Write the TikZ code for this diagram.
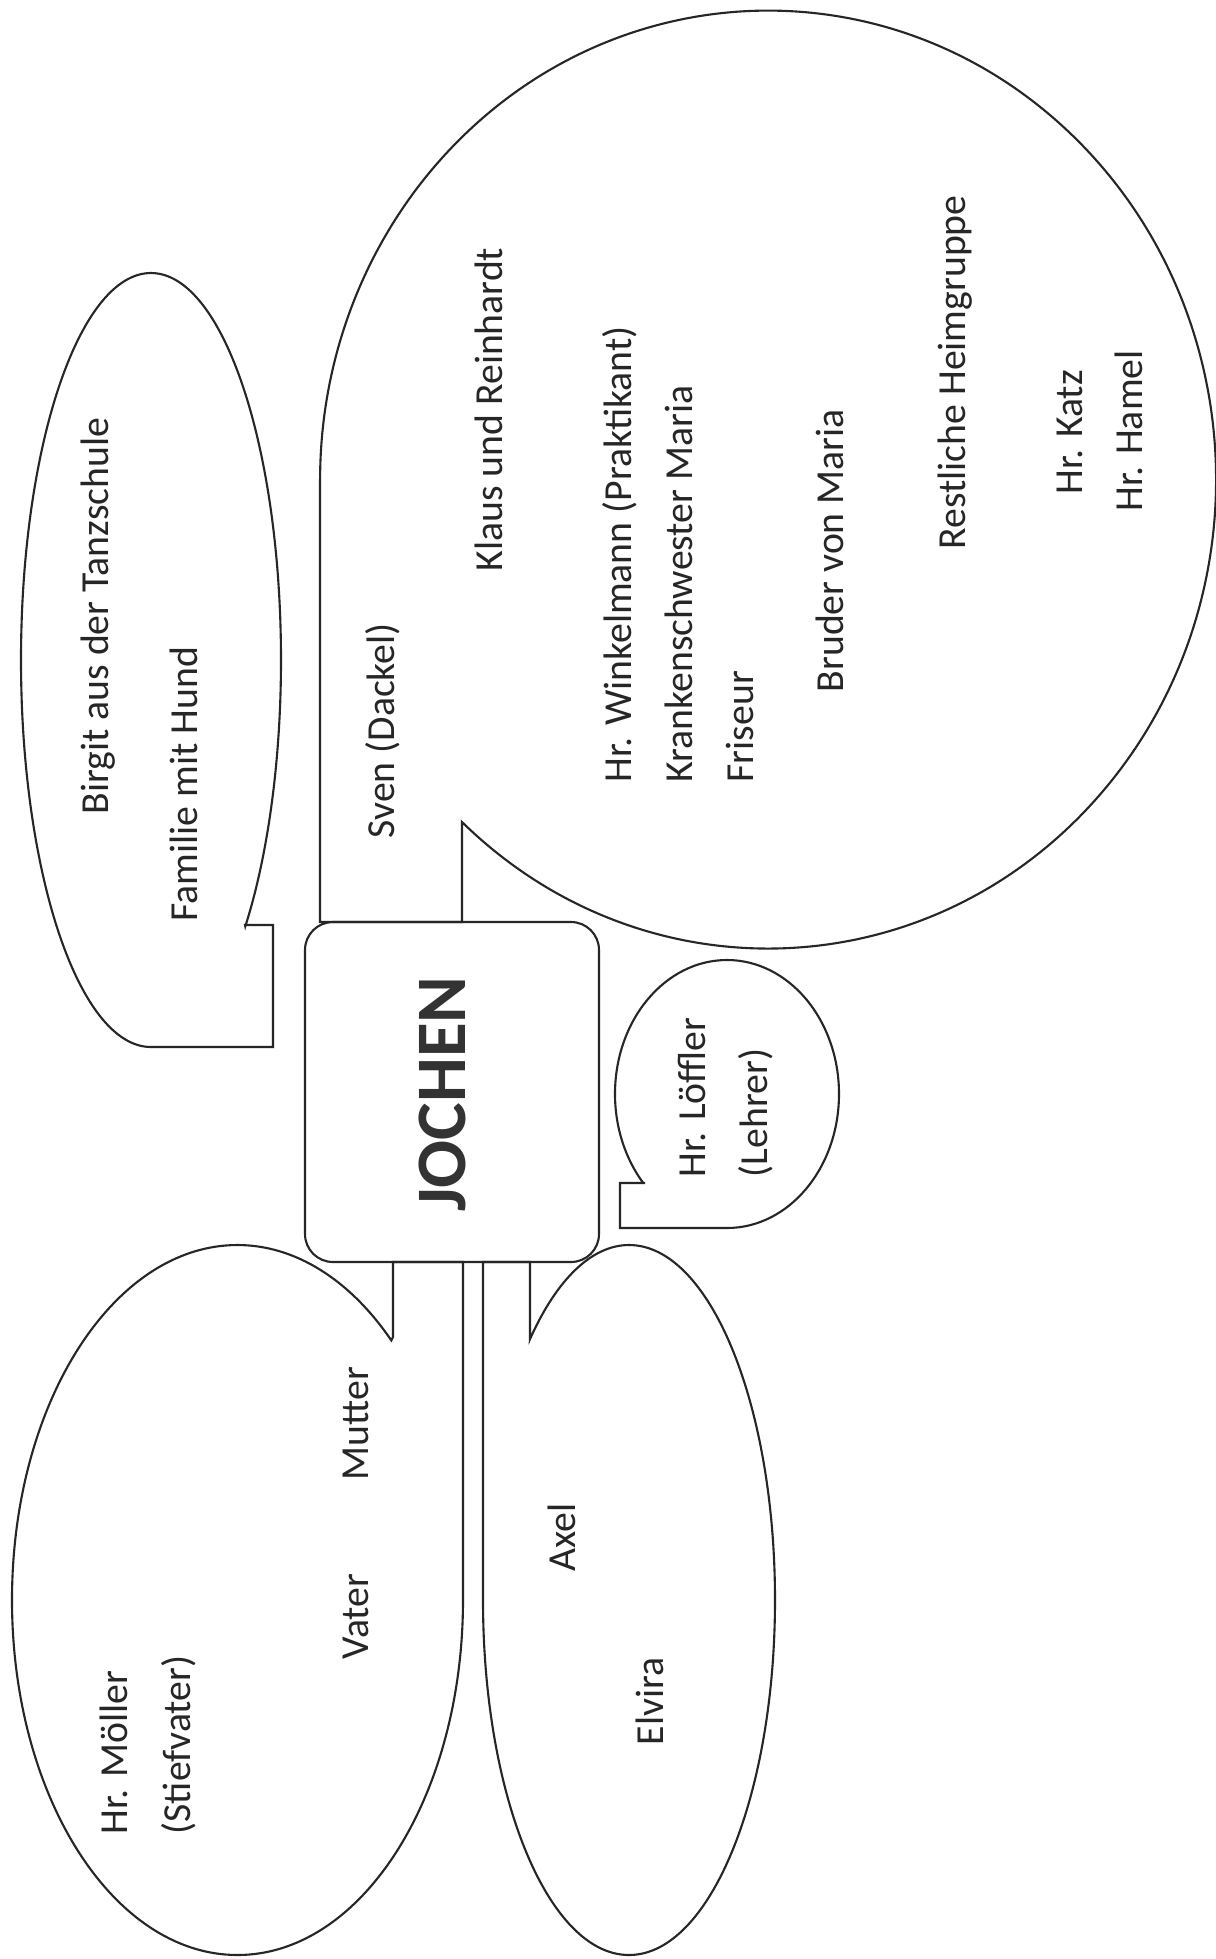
\documentclass[tikz,border=0pt]{standalone}
\usepackage{fontspec}
\setmainfont{Carlito}
\begin{document}
\begin{tikzpicture}[bubble/.style={draw=black!85, line width=0.6pt},
  lbl/.style={rotate=90, anchor=base west, inner sep=0pt, text=black!85, font=\fontsize{11.3}{13.8}\selectfont}]
\fill[white] (0,0) rectangle (12.16,-19.59);
\useasboundingbox (0,0) rectangle (12.16,-19.59);
\node (jochen) [draw=black!85, line width=0.6pt, rounded corners=0.28cm, minimum width=2.94cm, minimum height=3.40cm] at (4.52,-10.92) {};
\node (title) [rotate=90, text=black!80, font=\fontsize{20.2}{24}\selectfont\bfseries] at (4.425,-10.94) {JOCHEN};
\draw[bubble] (3.20,-4.79) -- (3.20,-9.22) -- (4.62,-9.22) -- (4.62,-8.22) arc[start angle=226.9, end angle=540, x radius=4.48, y radius=4.69] -- cycle;
\draw[bubble] (2.45,-9.25) -- (2.73,-9.25) -- (2.73,-10.47) -- (1.51,-10.47) arc[start angle=270, end angle=-43.5, x radius=1.30, y radius=3.87] -- cycle;
\draw[bubble] (6.45,-11.83) -- (6.20,-11.83) -- (6.20,-12.28) -- (7.27,-12.28) arc[start angle=270, end angle=581.7, x radius=1.12, y radius=1.34] -- cycle;
\draw[bubble] (3.93,-13.37) -- (3.93,-12.62) -- (4.63,-12.62) -- (4.63,-16.00) arc[start angle=0, end angle=-313, x radius=2.255, y radius=3.55] -- cycle;
\draw[bubble] (5.30,-13.39) -- (5.30,-12.62) -- (4.83,-12.62) -- (4.83,-16.00) arc[start angle=180, end angle=492.7, x radius=1.46, y radius=3.55] -- cycle;
\node (birgit) [lbl] at (1.08,-8.15) {Birgit aus der Tanzschule};
\node (familie) [lbl] at (1.97,-9.22) {Familie mit Hund};
\node (sven) [lbl] at (3.94,-8.39) {Sven (Dackel)};
\node (klaus) [lbl] at (5.02,-5.72) {Klaus und Reinhardt};
\node (winkel) [lbl] at (6.31,-7.83) {Hr. Winkelmann (Praktikant)};
\node (kranken) [lbl] at (6.92,-7.83) {Krankenschwester Maria};
\node (friseur) [lbl] at (7.53,-7.83) {Friseur};
\node (bruder) [lbl] at (8.43,-6.93) {Bruder von Maria};
\node (rest) [lbl] at (9.65,-5.50) {Restliche Heimgruppe};
\node (katz) [lbl] at (10.82,-4.95) {Hr. Katz};
\node (hamel) [lbl] at (11.42,-5.12) {Hr. Hamel};
\node (loeffler) [lbl] at (7.05,-11.78) {Hr. Löffler};
\node (lehrer) [lbl] at (7.67,-11.78) {(Lehrer)};
\node (mutter) [lbl] at (3.68,-14.81) {Mutter};
\node (vater) [lbl] at (3.68,-16.60) {Vater};
\node (moeller) [lbl] at (1.27,-18.35) {Hr. Möller};
\node (stief) [lbl] at (1.90,-18.35) {(Stiefvater)};
\node (axel) [lbl] at (5.75,-15.72) {Axel};
\node (elvira) [lbl] at (6.63,-17.46) {Elvira};
\end{tikzpicture}
\end{document}
